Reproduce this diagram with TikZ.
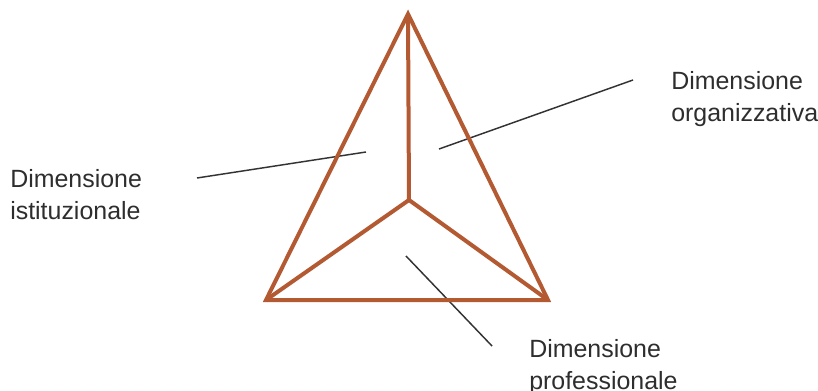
\documentclass[tikz,border=0pt]{standalone}
\usepackage{fontspec}
\setmainfont{Liberation Sans}
\definecolor{rust}{HTML}{B35A33}
\definecolor{lead}{HTML}{333333}
\begin{document}
\begin{tikzpicture}[x=0.75pt,y=-0.75pt,
  edge/.style={draw=rust,line width=3pt,line join=miter},
  leader/.style={draw=lead,line width=1.1pt},
  lbl/.style={anchor=north west,inner sep=0pt,align=left,text=lead!90!black,
    font=\fontsize{18.7}{24.2}\selectfont}]
\useasboundingbox (0,0) rectangle (818,390);
\coordinate (A) at (408,14);
\coordinate (L) at (266,300);
\coordinate (R) at (548,300);
\coordinate (C) at (409,200);
\coordinate (l1a) at (197,178);
\coordinate (l1b) at (366,152);
\coordinate (l2a) at (439,149);
\coordinate (l2b) at (633,80);
\coordinate (l3a) at (406,256);
\coordinate (l3b) at (492,346);
\draw[leader] (l1a) -- (l1b);
\draw[leader] (l2a) -- (l2b);
\draw[leader] (l3a) -- (l3b);
\draw[edge] (A) -- (L) -- (R) -- cycle;
\draw[edge] (C) -- (A);
\draw[edge] (C) -- (L);
\draw[edge] (C) -- (R);
\node[lbl] (ist) at (10,169) {Dimensione\\istituzionale};
\node[lbl] (org) at (671,71) {Dimensione\\organizzativa};
\node[lbl] (pro) at (529,339) {Dimensione\\professionale};
\end{tikzpicture}
\end{document}
